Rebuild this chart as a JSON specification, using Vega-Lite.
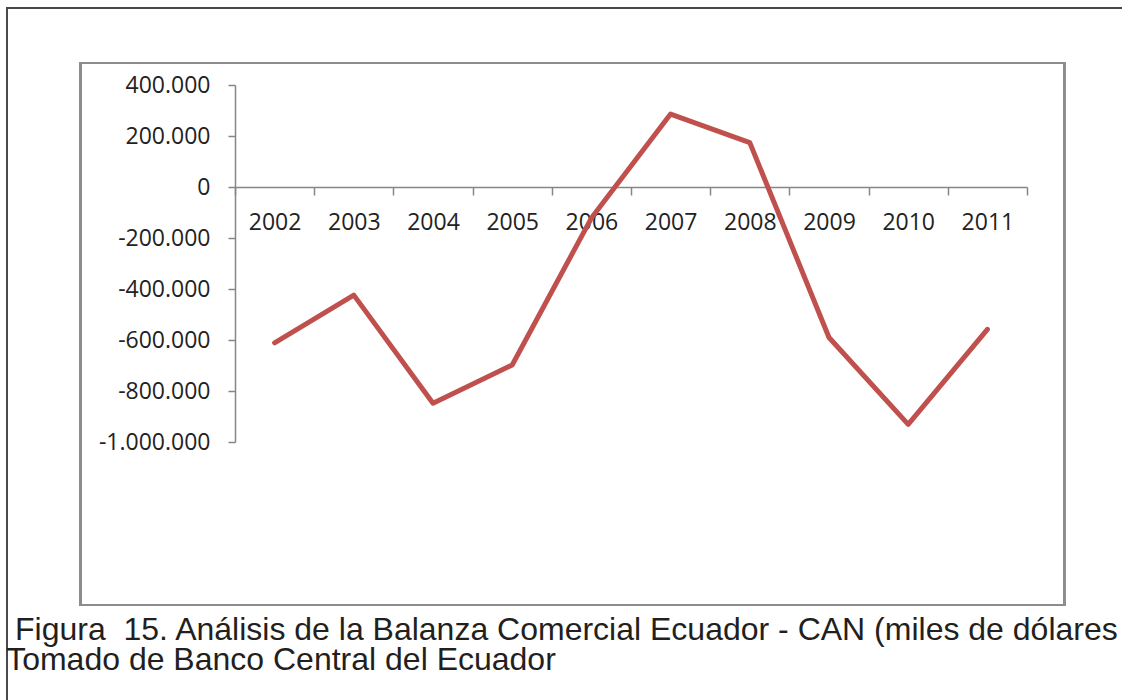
{
  "$schema": "https://vega.github.io/schema/vega-lite/v6.json",
  "autosize": {"type": "none"},
  "width": 792,
  "height": 357,
  "padding": {"left": 235, "top": 85, "right": 95, "bottom": 258},
  "background": "white",
  "title": {
    "text": ["\u200b\u00a0Figura \u00a015. Análisis de la Balanza Comercial Ecuador - CAN (miles de dólares", "Tomado de Banco Central del Ecuador"],
    "orient": "bottom",
    "anchor": "start",
    "frame": "bounds",
    "font": "Liberation Sans",
    "fontSize": 32,
    "fontWeight": "normal",
    "color": "#231f20",
    "lineHeight": 30,
    "offset": -98
  },
  "data": {
    "values": [
      {"year": 2002, "balanza": -611000},
      {"year": 2003, "balanza": -424000},
      {"year": 2004, "balanza": -848000},
      {"year": 2005, "balanza": -698000},
      {"year": 2006, "balanza": -122000},
      {"year": 2007, "balanza": 286000},
      {"year": 2008, "balanza": 174000},
      {"year": 2009, "balanza": -590000},
      {"year": 2010, "balanza": -931000},
      {"year": 2011, "balanza": -558000}
    ]
  },
  "layer": [
    {
      "mark": {"type": "rect", "filled": false, "stroke": "#4a4a4a", "strokeWidth": 1.5},
      "encoding": {
        "x": {"datum": 1998.62, "type": "quantitative"},
        "x2": {"datum": 2013.5},
        "y": {"datum": 702000, "type": "quantitative"},
        "y2": {"datum": -2058000}
      }
    },
    {
      "mark": {"type": "rect", "filled": false, "stroke": "#8c8c8c", "strokeWidth": 2},
      "encoding": {
        "x": {"datum": 1999.55, "type": "quantitative"},
        "x2": {"datum": 2011.97},
        "y": {"datum": 486000, "type": "quantitative"},
        "y2": {"datum": -1639000}
      }
    },
    {
      "mark": {"type": "line", "color": "#C0504D", "strokeWidth": 5, "strokeCap": "round", "strokeJoin": "round"},
      "encoding": {
        "x": {
          "field": "year",
          "type": "quantitative",
          "scale": {"domain": [2001.5, 2011.5], "nice": false, "zero": false},
          "axis": {
            "title": null,
            "orient": "bottom",
            "offset": -255,
            "values": [2001.5, 2002.5, 2003.5, 2004.5, 2005.5, 2006.5, 2007.5, 2008.5, 2009.5, 2010.5, 2011.5],
            "labelExpr": "datum.value > 2011 ? '' : '' + (datum.value + 0.5)",
            "labelOffset": 39.6,
            "labelOverlap": false,
            "labelFlush": false,
            "labelBound": false,
            "grid": false,
            "domainColor": "#868686",
            "domainWidth": 1.5,
            "tickColor": "#868686",
            "tickWidth": 1.5,
            "tickSize": 8,
            "labelPadding": 16,
            "labelFont": "Open Sans",
            "labelFontSize": 23,
            "labelColor": "#222222"
          }
        },
        "y": {
          "field": "balanza",
          "type": "quantitative",
          "scale": {"domain": [-1000000, 400000], "nice": false, "zero": false},
          "axis": {
            "title": null,
            "values": [-1000000, -800000, -600000, -400000, -200000, 0, 200000, 400000],
            "format": ",.0f",
            "grid": false,
            "domainColor": "#868686",
            "domainWidth": 1.5,
            "tickColor": "#868686",
            "tickWidth": 1.5,
            "tickSize": 7,
            "labelPadding": 18,
            "labelFont": "Open Sans",
            "labelFontSize": 23,
            "labelColor": "#222222"
          }
        }
      }
    }
  ],
  "config": {
    "view": {"stroke": null},
    "locale": {
      "number": {"decimal": ",", "thousands": ".", "grouping": [3], "currency": ["$", ""], "minus": "-"}
    }
  }
}
